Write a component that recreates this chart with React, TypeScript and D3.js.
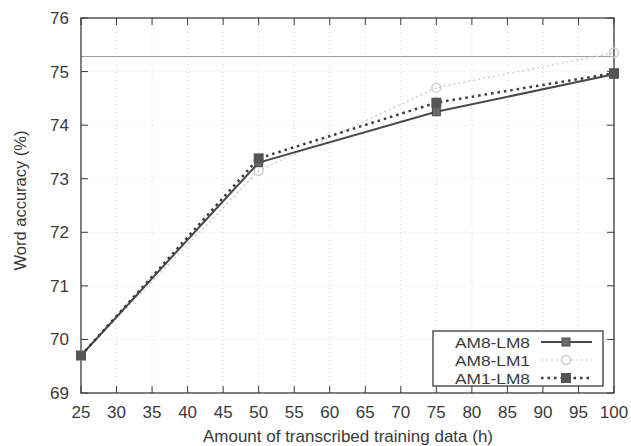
import * as d3 from 'd3';

const hours = [25, 50, 75, 100];
const am8lm8 = [69.7, 73.3, 74.25, 74.95];
const am8lm1 = [69.7, 73.15, 74.7, 75.35];
const am1lm8 = [69.7, 73.38, 74.42, 74.97];
const baseline = 75.28;
const xTicks = d3.range(25, 101, 5);
const yTicks = [69, 70, 71, 72, 73, 74, 75, 76];
const seriesNames = ['AM8-LM8', 'AM8-LM1', 'AM1-LM8'];

const W = 631;
const H = 446;
const m = { left: 81, right: 17, top: 18, bottom: 53 };
const FONT = '"Liberation Sans", Arial, sans-serif';
const INK = '#3a3a3a';

export default function App() {
  const x = d3.scaleLinear().domain([25, 100]).range([m.left, W - m.right]);
  const y = d3.scaleLinear().domain([69, 76]).range([H - m.bottom, m.top]);

  const line = d3.line<number>()
    .x((_, i) => x(hours[i]))
    .y(d => y(d));

  const x0 = x(25), x1 = x(100), y0 = y(69), y1 = y(76);

  // legend
  const lg = { x: 433, y: 331, w: 170, h: 55 };
  const rowY = [342, 360, 378];

  return (
    <svg width={W} height={H} style={{ position: 'absolute', left: 0, top: 0, background: '#fff' }}>
      {/* grid */}
      {xTicks.slice(1, -1).map(t => (
        <line key={'gx' + t} x1={x(t)} x2={x(t)} y1={y0} y2={y1} stroke="#d8d8d8" strokeWidth={1} strokeDasharray="1,3" />
      ))}
      {yTicks.slice(1, -1).map(t => (
        <line key={'gy' + t} x1={x0} x2={x1} y1={y(t)} y2={y(t)} stroke="#d8d8d8" strokeWidth={1} strokeDasharray="1,3" />
      ))}

      {/* reference line */}
      <line x1={x0} x2={x1} y1={y(baseline)} y2={y(baseline)} stroke="#9a9a9a" strokeWidth={1} />

      {/* frame and ticks */}
      <rect x={x0} y={y1} width={x1 - x0} height={y0 - y1} fill="none" stroke={INK} strokeWidth={1.3} />
      {xTicks.map(t => (
        <g key={'tx' + t}>
          <line x1={x(t)} x2={x(t)} y1={y0} y2={y0 - 7} stroke={INK} />
          <line x1={x(t)} x2={x(t)} y1={y1} y2={y1 + 7} stroke={INK} />
          <text x={x(t)} y={y0 + 25} textAnchor="middle" fontFamily={FONT} fontSize={17} fill={INK}>{t}</text>
        </g>
      ))}
      {yTicks.map(t => (
        <g key={'ty' + t}>
          <line x1={x0} x2={x0 + 7} y1={y(t)} y2={y(t)} stroke={INK} />
          <line x1={x1} x2={x1 - 7} y1={y(t)} y2={y(t)} stroke={INK} />
          <text x={x0 - 12} y={y(t) + 6} textAnchor="end" fontFamily={FONT} fontSize={17} fill={INK}>{t}</text>
        </g>
      ))}

      {/* series */}
      <path d={line(am8lm1) ?? ''} fill="none" stroke="#cfcfcf" strokeWidth={1.5} strokeDasharray="2,3" />
      {am8lm1.map((v, i) => (
        <circle key={'c' + i} cx={x(hours[i])} cy={y(v)} r={4.5} fill="none" stroke="#cfcfcf" strokeWidth={1.5} />
      ))}
      <path d={line(am8lm8) ?? ''} fill="none" stroke="#4a4a4a" strokeWidth={2} />
      {am8lm8.map((v, i) => (
        <rect key={'s' + i} x={x(hours[i]) - 4} y={y(v) - 4} width={8} height={8} fill="#6a6a6a" stroke="#4a4a4a" />
      ))}
      <path d={line(am1lm8) ?? ''} fill="none" stroke="#3a3a3a" strokeWidth={2.5} strokeDasharray="2.5,4" />
      {am1lm8.map((v, i) => (
        <rect key={'q' + i} x={x(hours[i]) - 5} y={y(v) - 5} width={10} height={10} fill="#555" />
      ))}

      {/* legend */}
      <rect x={lg.x} y={lg.y} width={lg.w} height={lg.h} fill="#fff" stroke={INK} strokeWidth={1.3} />
      {seriesNames.map((n, i) => (
        <text key={n} x={530} y={rowY[i] + 5.5} textAnchor="end" fontFamily={FONT} fontSize={15.5}
          textLength={75} lengthAdjust="spacingAndGlyphs" fill={INK}>{n}</text>
      ))}
      <line x1={541} x2={592} y1={rowY[0]} y2={rowY[0]} stroke="#4a4a4a" strokeWidth={2} />
      <rect x={562} y={rowY[0] - 4} width={8} height={8} fill="#6a6a6a" stroke="#4a4a4a" />
      <line x1={541} x2={592} y1={rowY[1]} y2={rowY[1]} stroke="#d8d8d8" strokeWidth={1.5} strokeDasharray="2,3" />
      <circle cx={566} cy={rowY[1]} r={4.5} fill="#fff" stroke="#cfcfcf" strokeWidth={1.5} />
      <line x1={541} x2={592} y1={rowY[2]} y2={rowY[2]} stroke="#3a3a3a" strokeWidth={2.5} strokeDasharray="2.5,4" />
      <rect x={561} y={rowY[2] - 5} width={10} height={10} fill="#555" />

      {/* axis titles */}
      <text x={348} y={442} textAnchor="middle" fontFamily={FONT} fontSize={17} fill={INK}>
        Amount of transcribed training data (h)
      </text>
      <text transform={`translate(26,${(y0 + y1) / 2 - 5}) rotate(-90)`} textAnchor="middle" fontFamily={FONT} fontSize={16.5} fill={INK}>
        Word accuracy (%)
      </text>
    </svg>
  );
}
